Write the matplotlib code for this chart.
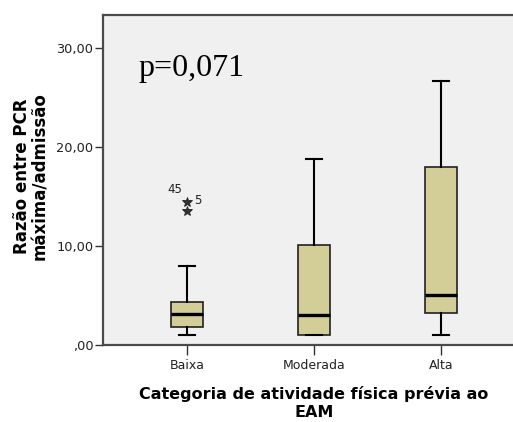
import matplotlib
matplotlib.use("Agg")
import matplotlib.pyplot as plt

# ---- data ----
categories = ["Baixa", "Moderada", "Alta"]
whisker_low = [1.0, 1.0, 1.0]
q1 = [1.85, 1.0, 3.2]
median = [3.1, 3.0, 5.0]
q3 = [4.3, 10.1, 18.0]
whisker_high = [8.0, 18.8, 26.7]
outliers_baixa = [14.4, 13.5]
outlier_ids_baixa = ["45", "5"]
yticks = [0, 10, 20, 30]
ytick_labels = [",00", "10,00", "20,00", "30,00"]
p_text = "p=0,071"
ylabel = "Razão entre PCR\nmáxima/admissão"
xlabel = "Categoria de atividade física prévia ao\nEAM"

plt.rcParams['font.family'] = ['DejaVu Sans']

W, H = 513, 422
fig = plt.figure(figsize=(W / 100, H / 100), dpi=100)
fig.patch.set_facecolor("white")
ax = fig.add_axes([103 / W, 1 - 345 / H, (525 - 103) / W, 330 / H])
ax.set_facecolor("#F0F0F0")

stats = []
for i, c in enumerate(categories):
    stats.append(dict(label=c, whislo=whisker_low[i], q1=q1[i], med=median[i],
                      q3=q3[i], whishi=whisker_high[i],
                      fliers=outliers_baixa if i == 0 else []))

positions = list(range(1, len(categories) + 1))
ax.bxp(stats, positions=positions, widths=0.25, patch_artist=True,
       boxprops=dict(facecolor="#D3CE97", edgecolor="#222222", linewidth=1.2),
       medianprops=dict(color="black", linewidth=2.4),
       whiskerprops=dict(color="black", linewidth=1.5),
       capprops=dict(color="black", linewidth=1.5),
       capwidths=0.13,
       flierprops=dict(marker="*", markerfacecolor="#333333", markeredgecolor="#222222",
                       markersize=7, markeredgewidth=0.6, linestyle="none"))

# outlier labels
ax.annotate(outlier_ids_baixa[0], xy=(positions[0], outliers_baixa[0]),
            xytext=(-20, 6), textcoords="offset pixels", fontsize=8.5,
            color="#222222", ha="left", va="bottom")
ax.annotate(outlier_ids_baixa[1], xy=(positions[0], outliers_baixa[0]),
            xytext=(7, -5), textcoords="offset pixels", fontsize=8.5,
            color="#222222", ha="left", va="bottom")

ax.set_xlim(1 - 84 / 127, len(categories) + 84 / 127)
ax.set_ylim(0, 33.33)
ax.set_yticks(yticks)
ax.set_yticklabels(ytick_labels)
ax.set_xticks(positions)
ax.set_xticklabels(categories)

for s in ax.spines.values():
    s.set_color("#4a4a4a")
    s.set_linewidth(1.6)
ax.tick_params(axis="y", direction="out", length=6, width=1, color="#333333",
               pad=1, labelsize=9.3, labelcolor="#222222")
ax.tick_params(axis="x", direction="out", length=7, width=1, color="#333333",
               pad=3, labelsize=9, labelcolor="#222222")

ax.text(138, H - 76, p_text, transform=None, fontsize=23,
        family=["Liberation Serif", "DejaVu Serif"], ha="left", va="baseline")

fig.text(31 / W, 1 - 176 / H, ylabel, rotation=90, ha="center", va="center",
         fontsize=12, fontweight="bold", multialignment="center", linespacing=0.95)
fig.text(314 / W, 1 - 403 / H, xlabel, ha="center", va="center",
         fontsize=11.5, fontweight="bold", multialignment="center", linespacing=1.3)

fig.savefig("out.png", dpi=100)
